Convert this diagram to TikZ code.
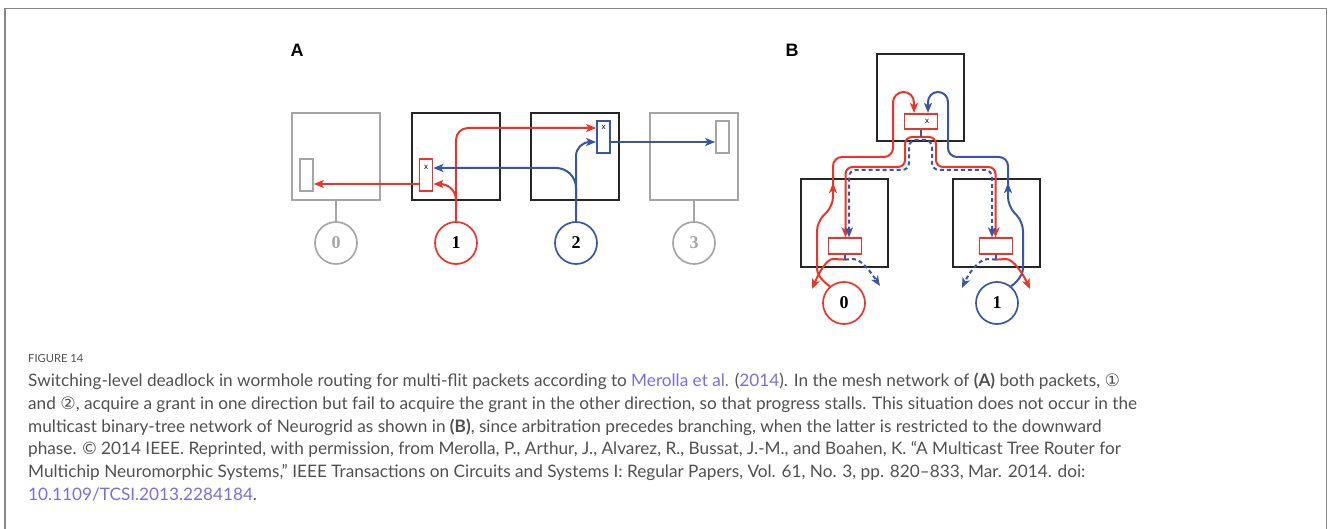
\documentclass[tikz,border=0pt]{standalone}
\usepackage{fontspec}
\setmainfont{Liberation Serif}
\newfontfamily\capfont{Lato}
\newfontfamily\labfont{Liberation Sans}
\newfontfamily\symfont{DejaVu Sans}
\usetikzlibrary{arrows.meta,calc}

\definecolor{pred}{RGB}{238,52,40}
\definecolor{pblue}{RGB}{55,86,168}
\definecolor{pgray}{RGB}{165,165,165}
\definecolor{captxt}{RGB}{80,80,80}
\definecolor{caplink}{RGB}{122,108,232}
\definecolor{framegray}{RGB}{135,135,135}

\tikzset{
  router/.style={draw=black!85, line width=2pt, minimum width=88pt, minimum height=87pt, inner sep=0pt},
  idle/.style={router, draw=pgray},
  buf/.style={draw, line width=1.7pt, minimum width=13pt, minimum height=32pt, inner sep=0pt},
  hbuf/.style={draw=pred, line width=1.7pt, minimum width=33pt, minimum height=15.5pt, inner sep=0pt},
  port/.style={circle, draw, line width=1.7pt, minimum size=42pt, inner sep=0pt,
               font=\fontsize{18}{18}\selectfont\bfseries},
  xmark/.style={inner sep=0pt, font=\labfont\fontsize{8}{8}\selectfont},
  panel/.style={inner sep=0pt, font=\labfont\bfseries\fontsize{18}{18}\selectfont},
  rline/.style={pred, line width=2pt},
  bline/.style={pblue, line width=2pt},
  dline/.style={pblue, line width=2pt, dash pattern=on 4pt off 3pt},
  stub/.style={pblue, line width=1.6pt},
  arrowhd/.style={-{Stealth[length=10pt,width=8pt,inset=2.5pt]}},
  twohd/.style={{Stealth[length=10pt,width=8pt,inset=2.5pt]}-{Stealth[length=10pt,width=8pt,inset=2.5pt]}},
  capline/.style={anchor=base west, inner sep=0pt, text=captxt, font=\capfont\fontsize{17.2}{17.2}\selectfont},
}

\newcommand{\lnk}[1]{\textcolor{caplink}{#1}}

\begin{document}
\begin{tikzpicture}[x=1pt,y=-1pt]
\useasboundingbox (0,0) rectangle (1328,529);

% outer frame
\draw[framegray, line width=1.3pt] (5,529) -- (5,8.3) -- (1326.5,8.3) -- (1326.5,529);

% ---------------- panel A: mesh network ----------------
\node[panel] (labA) at (297,50) {A};

\node[idle]   (ra0) at (336,156.5) {};
\node[router] (ra1) at (455.5,156.5) {};
\node[router] (ra2) at (575,156.5) {};
\node[idle]   (ra3) at (694,156.5) {};

\node[buf, draw=pgray] (qa0) at (306.5,175) {};
\node[buf, draw=pred]  (qa1) at (426,175) {};
\node[buf, draw=pblue] (qa2) at (603.5,137) {};
\node[buf, draw=pgray] (qa3) at (722.5,137) {};
\node[xmark] (xa1) at ([yshift=-9pt]qa1.north) {x};
\node[xmark] (xa2) at ([yshift=-7pt]qa2.north) {x};

\node[port, draw=pgray, text=pgray] (pa0) at (336,243) {0};
\node[port, draw=pred]              (pa1) at (456,243) {1};
\node[port, draw=pblue]             (pa2) at (576,243) {2};
\node[port, draw=pgray, text=pgray] (pa3) at (694,243) {3};

\draw[pgray, line width=2pt] (ra0.south) -- (pa0.north);
\draw[pgray, line width=2pt] (ra3.south) -- (pa3.north);

\coordinate (sa1) at (456,206);
\coordinate (sa2) at (576,206);

% packet 1 (red)
\draw[rline, arrowhd, rounded corners=12pt] (pa1.north) |- ([yshift=9pt]qa2.west);
\draw[rline, arrowhd, rounded corners=16pt] (sa1) |- ([yshift=-9pt]qa1.east);
\draw[rline, arrowhd] ([yshift=-9pt]qa1.west) -- ([yshift=-9pt]qa0.east);

% packet 2 (blue)
\draw[bline, arrowhd, rounded corners=14pt] (pa2.north) |- ([yshift=-5pt]qa2.west);
\draw[bline, arrowhd, rounded corners=20pt] (sa2) |- ([yshift=7pt]qa1.east);
\draw[bline, arrowhd] ([yshift=-5pt]qa2.east) -- ([yshift=-5pt]qa3.west);

% ---------------- panel B: binary tree ----------------
\node[panel] (labB) at (792,50) {B};

\node[router, minimum width=87pt]                      (rt) at (920.5,97.5) {};
\node[router, minimum width=87pt, minimum height=88pt] (rl) at (844.5,223) {};
\node[router, minimum width=87pt, minimum height=88pt] (rr) at (996.5,223) {};

\node[hbuf] (qt) at (921,121.5) {};
\node[hbuf] (ql) at (845,246) {};
\node[hbuf] (qr) at (996,246) {};
\node[xmark] (xt) at (927,121) {x};

\node[port, draw=pred]  (pb0) at (844,303) {0};
\node[port, draw=pblue] (pb1) at (997,303) {1};

% downward branches: red solid and blue dashed
\draw[rline, twohd, rounded corners=7pt] ([xshift=0.5pt]ql.north) |- (905,167) -- (905,137)
      -- (936,137) -- (936,167) -| ([xshift=-0.5pt]qr.north);
\draw[dline, twohd, rounded corners=7pt] ([xshift=4pt]ql.north) |- (909,170) -- (909,140)
      -- (932,140) -- (932,170) -| ([xshift=-4pt]qr.north);
\draw[stub] (qt.south) -- ([yshift=-7pt]qt.south);

% upward routes to the root
\draw[rline, arrowhd, rounded corners=9pt] (pb0.130) .. controls (820,280) and (817,272) .. (817,260)
      -- (817,222) -- (833,206) -- (833,157) -- (893,157) [rounded corners=10.5pt] -- (893,92) -- (914,92)
      -- ([xshift=-7pt]qt.north);
\draw[rline, arrowhd] (833,196) -- (833,183);
\draw[bline, arrowhd, rounded corners=9pt] (pb1.50) .. controls (1020,280) and (1023,272) .. (1023,260)
      -- (1023,222) -- (1008,206) -- (1008,157) -- (948,157) [rounded corners=10pt] -- (948,92) -- (928,92)
      -- ([xshift=7pt]qt.north);
\draw[bline, arrowhd] (1008,196) -- (1008,183);

% leaf outputs
\coordinate (ol0) at (812,289);
\coordinate (ol1) at (880,286);
\coordinate (or0) at (962,288);
\coordinate (or1) at (1030,289);
\draw[stub] (ql.south) -- ([yshift=-5pt]ql.south);
\draw[stub] (qr.south) -- ([yshift=-5pt]qr.south);
\draw[rline, arrowhd] ([yshift=-5pt]ql.south) -- (833,259) .. controls (826,259) and (818,275) .. (ol0);
\draw[dline, arrowhd] ([yshift=-5pt]ql.south) -- (853,259) .. controls (862,259) and (872,274) .. (ol1);
\draw[rline, arrowhd] ([yshift=-5pt]qr.south) -- (1006,259) .. controls (1014,259) and (1024,276) .. (or1);
\draw[dline, arrowhd] ([yshift=-5pt]qr.south) -- (988,259) .. controls (978,259) and (968,275) .. (or0);

% ---------------- caption ----------------
\node[capline, font=\capfont\fontsize{11.2}{11.2}\selectfont] (cap0) at (28,362.7) {FIGURE 14};
\node[capline] (cap1) at (28,386.5) {Switching-level deadlock in wormhole routing for multi-flit packets according to \lnk{Merolla et al.} (\lnk{2014}). In the mesh network of \textbf{(A)} both packets, {\symfont ①}};
\node[capline] (cap2) at (28,409.3) {and {\symfont ②}, acquire a grant in one direction but fail to acquire the grant in the other direction, so that progress stalls. This situation does not occur in the};
\node[capline] (cap3) at (28,432.1) {multicast binary-tree network of Neurogrid as shown in \textbf{(B)}, since arbitration precedes branching, when the latter is restricted to the downward};
\node[capline] (cap4) at (28,454.9) {phase. © 2014 IEEE. Reprinted, with permission, from Merolla, P., Arthur, J., Alvarez, R., Bussat, J.-M., and Boahen, K. “A Multicast Tree Router for};
\node[capline] (cap5) at (28,477.7) {Multichip Neuromorphic Systems,” IEEE Transactions on Circuits and Systems I: Regular Papers, Vol. 61, No. 3, pp. 820–833, Mar. 2014. doi:};
\node[capline] (cap6) at (28,500.5) {\lnk{10.1109/TCSI.2013.2284184}.};
\end{tikzpicture}
\end{document}
